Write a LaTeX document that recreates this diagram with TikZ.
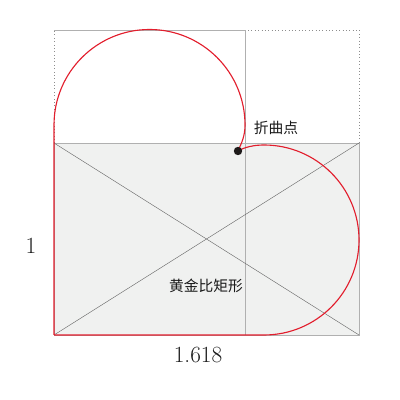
\documentclass[tikz,border=0pt]{standalone}
\usepackage{fontspec}
\usepackage{tikz}
\usetikzlibrary{calc}
\newfontfamily\cjk{Noto Sans CJK SC}
\definecolor{curveRed}{RGB}{226, 30, 45}
\definecolor{paneGrey}{RGB}{240, 241, 240}
\definecolor{edgeGrey}{RGB}{176, 176, 176}
\definecolor{dotBlack}{RGB}{30, 26, 26}

\begin{document}
\begin{tikzpicture} [
        x=0.025cm, y=0.025cm,
        edge/.style={draw=edgeGrey, line width=0.5pt},
        dots/.style={draw=edgeGrey!80!black, line width=0.4pt, dotted},
        diag/.style={draw=black!60, line width=0.3pt},
        curve/.style={draw=curveRed, line width=0.8pt},
        cjklabel/.style={font=\cjk\fontsize{10.5}{12}\selectfont, text=black!90},
        num/.style={font=\fontsize{16.5}{18}\selectfont, text=black!90}
    ]
        \useasboundingbox (0,0) rectangle (400,400);

        % golden rectangle and the square above it
        \coordinate (sw) at (54,65);
        \coordinate (se) at (359,65);
        \coordinate (ne) at (359,257);
        \coordinate (nw) at (54,257);
        \coordinate (tl) at (54,370);
        \coordinate (tr) at (359,370);
        \coordinate (mb) at (245,65);
        \coordinate (mt) at (245,370);

        \fill[paneGrey] (sw) rectangle (ne);
        \draw[dots] (nw) -- (tl) -- (tr) -- (ne);
        \draw[edge] (sw) rectangle (ne);
        \draw[edge] (tl) -- (mt);
        \draw[edge] (mb) -- (mt);
        \draw[diag] (nw) -- (se);
        \draw[diag] (sw) -- (ne);

        % folded curve
        \coordinate (bend) at (238,249);
        \draw[curve] (sw) -- (54,275)
            arc[start angle=180, end angle=0, radius=95.5]
            .. controls (245,263) and (241,256) .. (bend)
            .. controls (245,253) and (254,255) .. (264,255)
            arc[start angle=90, end angle=-90, radius=95]
            -- (sw);
        \fill[dotBlack] (bend) circle (4.2);

        \node[cjklabel] (bendlabel) at (276,272) {折曲点};
        \node[cjklabel] (rectlabel) at (206,114) {黄金比矩形};
        \node[num] (height) at (31,154) {1};
        \node[num] (width) at (198,45) {1.618};
    \end{tikzpicture}
\end{document}
